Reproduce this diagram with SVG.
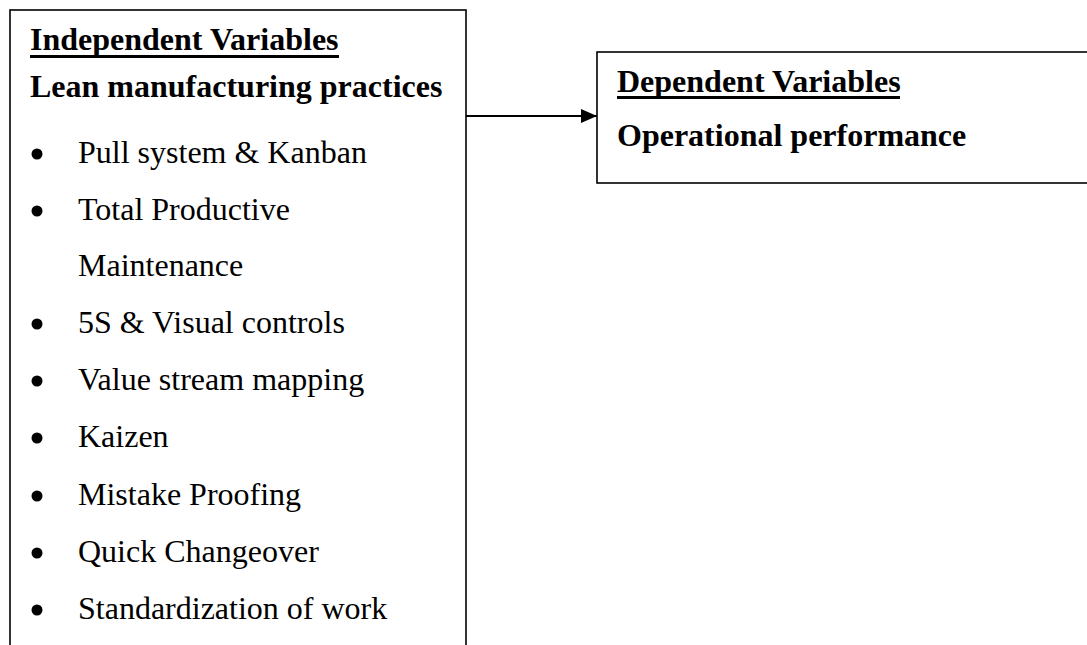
<svg xmlns="http://www.w3.org/2000/svg" width="1087" height="645" viewBox="0 0 1087 645">
<style>
.box{fill:#fff;stroke:#000;stroke-width:1.6}
.b{font-family:"Liberation Serif","Times New Roman",serif;font-size:32px;font-weight:bold;fill:#000}
.r{font-family:"Liberation Serif","Times New Roman",serif;font-size:32px;fill:#000}
.ul{stroke:#000;stroke-width:3}
.dot{fill:#000}
</style>
<defs>
<marker id="ah" markerWidth="16" markerHeight="14" refX="16" refY="7" orient="auto" markerUnits="userSpaceOnUse">
<path d="M0,0 L16,7 L0,14 Z" fill="#000"/>
</marker>
</defs>
<rect width="1087" height="645" fill="#fff"/>
<g id="independent">
<rect class="box" x="10" y="10" width="456" height="660"/>
<text class="b" x="30" y="50">Independent Variables</text>
<line class="ul" x1="30" y1="56.5" x2="339" y2="56.5"/>
<text class="b" x="30" y="97">Lean manufacturing practices</text>
<circle class="dot" cx="37" cy="154" r="5.5"/><text class="r" x="78" y="163">Pull system &amp; Kanban</text>
<circle class="dot" cx="37" cy="211" r="5.5"/><text class="r" x="78" y="220">Total Productive</text>
<text class="r" x="78" y="276">Maintenance</text>
<circle class="dot" cx="37" cy="324" r="5.5"/><text class="r" x="78" y="333">5S &amp; Visual controls</text>
<circle class="dot" cx="37" cy="381" r="5.5"/><text class="r" x="78" y="390">Value stream mapping</text>
<circle class="dot" cx="37" cy="438" r="5.5"/><text class="r" x="78" y="447">Kaizen</text>
<circle class="dot" cx="37" cy="496" r="5.5"/><text class="r" x="78" y="505">Mistake Proofing</text>
<circle class="dot" cx="37" cy="553" r="5.5"/><text class="r" x="78" y="562">Quick Changeover</text>
<circle class="dot" cx="37" cy="610" r="5.5"/><text class="r" x="78" y="619">Standardization of work</text>
</g>
<g id="dependent">
<rect class="box" x="597" y="52" width="520" height="131"/>
<text class="b" x="617" y="92">Dependent Variables</text>
<line class="ul" x1="617" y1="97.5" x2="900" y2="97.5"/>
<text class="b" x="617" y="146">Operational performance</text>
</g>
<g id="connectors">
<line x1="466" y1="116" x2="597" y2="116" stroke="#000" stroke-width="1.8" marker-end="url(#ah)"/>
</g>
</svg>
